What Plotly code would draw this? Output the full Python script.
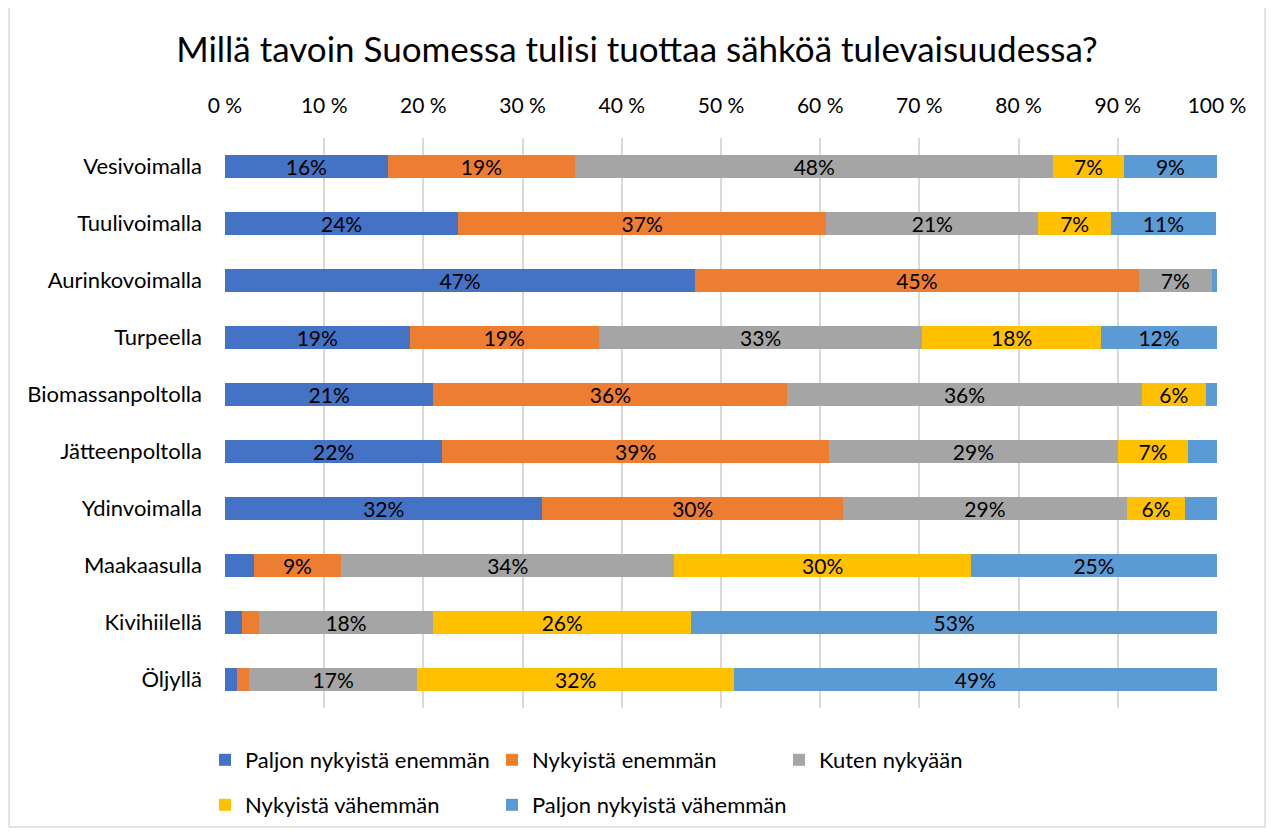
import plotly.graph_objects as go

categories = ["Vesivoimalla", "Tuulivoimalla", "Aurinkovoimalla", "Turpeella",
              "Biomassanpoltolla", "Jätteenpoltolla", "Ydinvoimalla", "Maakaasulla",
              "Kivihiilellä", "Öljyllä"]

series_names = ["Paljon nykyistä enemmän", "Nykyistä enemmän", "Kuten nykyään",
                "Nykyistä vähemmän", "Paljon nykyistä vähemmän"]

paljon_enemman = [16.4, 23.5, 47.4, 18.6, 21.0, 21.9, 32.0, 2.9, 1.7, 1.2]
enemman        = [18.9, 37.1, 44.7, 19.1, 35.7, 39.0, 30.3, 8.8, 1.7, 1.2]
kuten_nyt      = [48.2, 21.4, 7.4, 32.6, 35.7, 29.1, 28.6, 33.6, 17.6, 17.0]
vahemman       = [7.1, 7.3, 0.0, 18.0, 6.5, 7.1, 5.9, 29.9, 26.0, 31.9]
paljon_vahemman= [9.4, 10.6, 0.5, 11.7, 1.1, 2.9, 3.2, 24.8, 53.0, 48.7]

x_ticks = [0, 10, 20, 30, 40, 50, 60, 70, 80, 90, 100]

colors = ["#4472C4", "#ED7D31", "#A5A5A5", "#FFC000", "#5B9BD5"]
all_series = [paljon_enemman, enemman, kuten_nyt, vahemman, paljon_vahemman]

FONT = "Lato, Carlito, Calibri, sans-serif"

# figure placed at page offset 8px (body margin)
W, H = 1258, 820
L, R, T, B = 217, 49, 130, 120
pw, ph = W - L - R, H - T - B
bottom = T + ph

def px_x(x):  # figure px -> paper x
    return (x - L) / pw

def px_y(y):  # figure px -> paper y
    return (bottom - y) / ph

legend_ids = ["legend", "legend2", "legend3", "legend4", "legend5"]
legend_pos = [(197, 752), (484, 752), (771, 752), (197, 797), (484, 797)]

fig = go.Figure()
for i, (name, vals, col) in enumerate(zip(series_names, all_series, colors)):
    labels = [f"{round(v)}%" if v >= 5 else "" for v in vals]
    fig.add_trace(go.Bar(
        name=name, y=categories, x=vals, orientation="h",
        marker=dict(color=col, line=dict(width=0)),
        text=labels, textposition="inside", insidetextanchor="middle",
        textangle=0, constraintext="none",
        textfont=dict(family=FONT, size=21, color="#000000"),
        legend=legend_ids[i], showlegend=True,
        hovertemplate="%{y}: %{x:.1f}%<extra>" + name + "</extra>",
    ))

legend_common = dict(orientation="h", xanchor="left", yanchor="middle",
                     font=dict(family=FONT, size=22, color="#000000"),
                     bgcolor="rgba(0,0,0,0)", traceorder="normal", visible=True)

legends = {lid: dict(x=px_x(px), y=px_y(py), **legend_common)
           for lid, (px, py) in zip(legend_ids, legend_pos)}

fig.update_layout(
    width=W, height=H, showlegend=True,
    barmode="stack", bargap=0.6,
    paper_bgcolor="white", plot_bgcolor="white",
    margin=dict(l=L, r=R, t=T, b=B, autoexpand=False),
    font=dict(family=FONT, size=21, color="#000000"),
    title=dict(text="Millä tavoin Suomessa tulisi tuottaa sähköä tulevaisuudessa?",
               x=0.5, xanchor="center", y=1 - 42 / H, yanchor="middle",
               font=dict(family=FONT, size=35, color="#000000")),
    xaxis=dict(side="top", range=[0, 100], tickvals=x_ticks,
               ticktext=[f"{t} %" for t in x_ticks],
               showgrid=True, gridcolor="#D9D9D9", gridwidth=1.5,
               zeroline=False, showline=False, ticks="",
               ticklabelstandoff=20,
               tickfont=dict(family=FONT, size=21, color="#000000")),
    yaxis=dict(autorange="reversed", showgrid=False, zeroline=False,
               showline=False, ticks="", ticklabelstandoff=22,
               tickfont=dict(family=FONT, size=22, color="#000000")),
    shapes=[
        dict(type="line", xref="paper", yref="paper",
             x0=px_x(1), x1=px_x(1), y0=px_y(0), y1=px_y(H - 1),
             line=dict(color="#D9D9D9", width=1.5)),
        dict(type="line", xref="paper", yref="paper",
             x0=px_x(W - 1), x1=px_x(W - 1), y0=px_y(0), y1=px_y(H - 1),
             line=dict(color="#D9D9D9", width=1.5)),
        dict(type="line", xref="paper", yref="paper",
             x0=px_x(1), x1=px_x(W - 1), y0=px_y(H - 1), y1=px_y(H - 1),
             line=dict(color="#D9D9D9", width=1.5)),
    ],
    **legends,
)

fig.write_html("out.html")
